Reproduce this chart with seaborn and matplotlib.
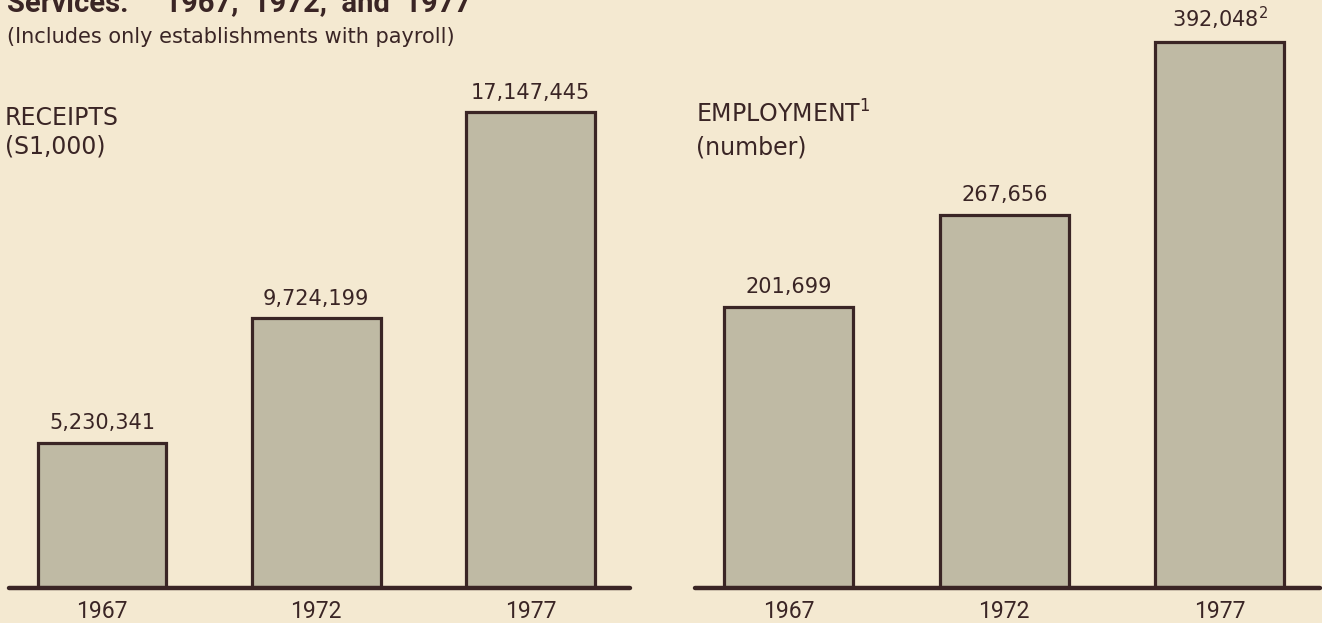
import matplotlib
matplotlib.use("Agg")
import matplotlib.pyplot as plt
import seaborn as sns
import pandas as pd

# Selected services: receipts and employment, establishments with payroll
years = ["1967", "1972", "1977"]
receipts = [5230341, 9724199, 17147445]        # $1,000
employment = [201699, 267656, 392048]          # number
receipt_notes = ["", "", ""]
employment_notes = ["", "", "2"]

BG = "#F4E9D1"
BAR = "#BFBAA4"
INK = "#3A2525"

sns.set_theme(style="white")
plt.rcParams["font.family"] = ["DejaVu Sans"]
plt.rcParams["mathtext.fontset"] = "dejavusans"

W, H = 1322, 623
fig = plt.figure(figsize=(W / 100, H / 100), dpi=100, facecolor=BG)


def px_axes(x0, x1, ybase, ytop=0):
    """Axes placed by pixel edges (y measured from the top of the figure)."""
    return fig.add_axes([x0 / W, 1 - ybase / H, (x1 - x0) / W, (ybase - ytop) / H])


def fx(x):
    return x / W


def fy(y):
    return 1 - y / H


def panel(ax, values, notes, ymax):
    df = pd.DataFrame({"year": years, "value": values})
    sns.barplot(data=df, x="year", y="value", color=BAR, saturation=1,
                edgecolor=INK, linewidth=2.3, width=0.6, ax=ax)
    ax.set_facecolor("none")
    ax.set_xlim(-0.435, 2.465)
    ax.set_ylim(0, ymax)
    ax.set_xlabel("")
    ax.set_ylabel("")
    ax.set_yticks([])
    for s in ax.spines.values():
        s.set_visible(False)
    ax.tick_params(axis="x", length=0, pad=9, labelcolor=INK)
    for lbl in ax.get_xticklabels():
        lbl.set_fontfamily("Roboto")
        lbl.set_fontsize(16.5)
    ax.axhline(0, color=INK, lw=3.2, clip_on=False, zorder=5)
    labels = [f"{v:,}" + (f"$^{{{n}}}$" if n else "") for v, n in zip(values, notes)]
    ax.bar_label(ax.containers[0], labels=labels, padding=7,
                 fontsize=15, color=INK)


ax_r = px_axes(9, 630, 588)
ax_e = px_axes(695, 1320, 588)
panel(ax_r, receipts, receipt_notes, 21.2e6)
panel(ax_e, employment, employment_notes, 422000)

# Title (runs off the top edge) and subtitle
fig.text(fx(7), fy(11), "Services:     1967,  1972,  and  1977", fontfamily="Roboto",
         fontweight="bold", fontsize=21, color=INK, va="baseline", ha="left")
fig.text(fx(7), fy(43), "(Includes only establishments with payroll)",
         fontsize=15, color=INK, va="baseline", ha="left")

# Panel headings
fig.text(fx(5), fy(125), "RECEIPTS", fontsize=17, color=INK, va="baseline")
fig.text(fx(5), fy(154), "(S1,000)", fontsize=17, color=INK, va="baseline")
fig.text(fx(696), fy(123), "EMPLOYMENT$^{1}$", fontsize=17, color=INK, va="baseline")
fig.text(fx(696), fy(155), "(number)", fontsize=17, color=INK, va="baseline")

fig.savefig("out.png", dpi=100, facecolor=BG)
